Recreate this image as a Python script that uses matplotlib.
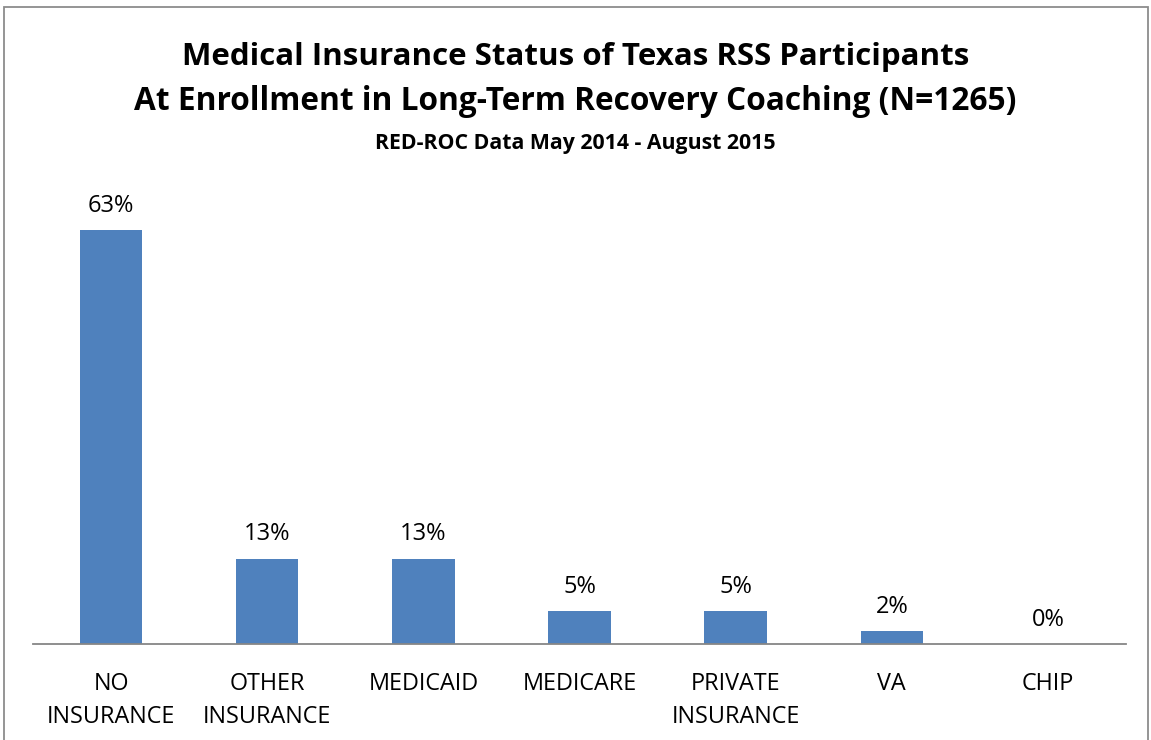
import matplotlib.pyplot as plt
from matplotlib.patches import Rectangle

categories = ['NO\nINSURANCE', 'OTHER\nINSURANCE', 'MEDICAID', 'MEDICARE',
              'PRIVATE\nINSURANCE', 'VA', 'CHIP']
pct = [63, 13, 13, 5, 5, 2, 0]
labels = ['63%', '13%', '13%', '5%', '5%', '2%', '0%']

plt.rcParams['font.family'] = ['Open Sans', 'DejaVu Sans']

W, H = 1151, 740
fig = plt.figure(figsize=(W / 100, H / 100), dpi=100)
ax = fig.add_axes([33 / W, (H - 644) / H, (1126 - 33) / W, (644 - 184) / H])

x = range(len(categories))
ax.bar(x, pct, width=0.4, color='#4F81BD')
for i, v in enumerate(pct):
    ax.text(i, v + 2.75, labels[i], ha='center', va='baseline', fontsize=17)

ax.set_xlim(-0.5, len(categories) - 0.5)
ax.set_ylim(0, 70)
ax.set_yticks([])
ax.set_xticks(list(x))
ax.set_xticklabels(categories, fontsize=16.8, linespacing=1.45, va='top')
ax.tick_params(axis='x', length=0, pad=20.5)
for s in ['top', 'right', 'left']:
    ax.spines[s].set_visible(False)
ax.spines['bottom'].set_color('#868686')
ax.spines['bottom'].set_linewidth(1.3)

fig.text(0.5, 1 - 57 / H, 'Medical Insurance Status of Texas RSS Participants',
         ha='center', va='center', fontsize=22.5, fontweight='bold')
fig.text(0.5, 1 - 101 / H, 'At Enrollment in Long-Term Recovery Coaching (N=1265)',
         ha='center', va='center', fontsize=22.8, fontweight='bold')
fig.text(0.5, 1 - 143 / H, 'RED-ROC Data May 2014 - August 2015',
         ha='center', va='center', fontsize=15.3, fontweight='bold')

fig.patches.append(Rectangle((4 / W, -0.01), (1148 - 4) / W, 1.01 - 7 / H,
                             transform=fig.transFigure, fill=False,
                             edgecolor='#8C8C8C', linewidth=1.3))

fig.savefig('out.png', dpi=100)
